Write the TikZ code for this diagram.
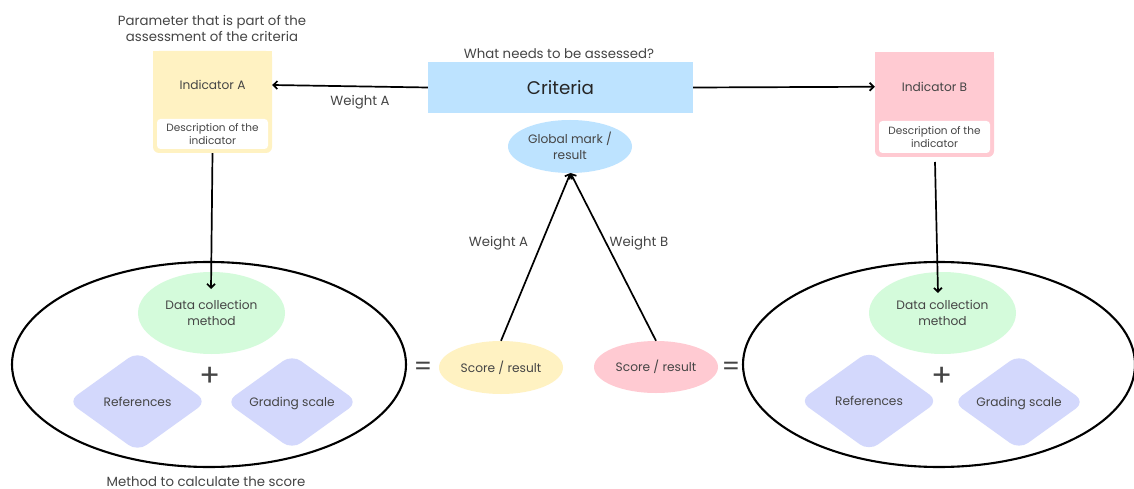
\documentclass[tikz,border=0pt]{standalone}
\usepackage{fontspec}
\setmainfont{Poppins}
\usetikzlibrary{arrows.meta,shapes.geometric}
\definecolor{cyellow}{HTML}{FFF2C2}
\definecolor{cpink}{HTML}{FFCAD2}
\definecolor{cblue}{HTML}{BDE3FF}
\definecolor{cgreen}{HTML}{D4FBDB}
\definecolor{clav}{HTML}{D3D8FC}
\definecolor{ctext}{HTML}{454545}
\tikzset{
 x=1pt,y=-1pt,
 lbl/.style={text=ctext,inner sep=0pt,align=center,font=\fontsize{13.3}{16}\selectfont},
 sym/.style={text=ctext,inner sep=0pt,font=\fontsize{26}{26}\selectfont},
 plussym/.style={text=ctext,inner sep=0pt,font=\fontsize{31}{31}\selectfont},
 bigoval/.style={ellipse,draw=black,line width=2.1pt,fill=white,inner sep=0pt},
 oval/.style={ellipse,inner sep=0pt,text=ctext,align=center,font=\fontsize{12.2}{16}\selectfont},
 rdiam/.style={diamond,fill=clav,rounded corners=11pt,inner sep=0pt,text=ctext,font=\fontsize{12.2}{16}\selectfont},
 square/.style={rectangle,inner sep=0pt,text=ctext,font=\fontsize{12.2}{16}\selectfont},
 descbox/.style={rectangle,fill=white,rounded corners=3.5pt,inner sep=0pt,text=ctext,align=center,font=\fontsize{10.5}{12.7}\selectfont},
 arr/.style={draw=black,line width=1.7pt,-{Straight Barb[length=4pt,width=8pt,line width=1.7pt]}},
}
\begin{document}
\begin{tikzpicture}
\useasboundingbox (0,0) rectangle (1134,489);
\fill[white] (0,0) rectangle (1134,489);
% left ellipse group
\node[bigoval,minimum width=394,minimum height=205] (ovA) at (209,364.5) {};
\node[oval,fill=cgreen,minimum width=147,minimum height=82] (dataA) at (211.5,313) {Data collection\\method};
\node[rdiam,minimum width=139,minimum height=100] (refA) at (137.5,401.5) {References};
\node[rdiam,minimum width=132,minimum height=95] (gradA) at (292,402) {\raisebox{-4.3pt}[0pt][0pt]{Grading scale}};
\node[plussym] (plusA) at (210.5,377) {+};
\node[sym] (eqA) at (423,369) {=};
% right ellipse group
\node[bigoval,minimum width=392,minimum height=205] (ovB) at (939,364.5) {};
\node[oval,fill=cgreen,minimum width=147,minimum height=82] (dataB) at (942.5,313) {Data collection\\method};
\node[rdiam,minimum width=139,minimum height=100] (refB) at (869,401) {References};
\node[rdiam,minimum width=132,minimum height=95] (gradB) at (1019,402) {\raisebox{-4.3pt}[0pt][0pt]{Grading scale}};
\node[plussym] (plusB) at (942,377) {+};
\node[sym] (eqB) at (731,369) {=};
% indicator A
\node[rectangle,fill=cyellow,rounded corners=6pt,minimum width=119,minimum height=102,inner sep=0pt] (boxA) at (212.5,102) {};
\node[square,fill=cyellow,minimum width=119,minimum height=68] (indA) at (212.5,85) {Indicator A};
\node[descbox,minimum width=111,minimum height=30] (descA) at (212.5,134) {Description of the\\indicator};
% indicator B
\node[rectangle,fill=cpink,rounded corners=6pt,minimum width=119,minimum height=104.5,inner sep=0pt] (boxB) at (934.5,104.75) {};
\node[square,fill=cpink,minimum width=119,minimum height=68.5] (indB) at (934.5,86.75) {Indicator B};
\node[descbox,minimum width=111,minimum height=32] (descB) at (934.5,137) {Description of the\\indicator};
% centre
\node[rectangle,fill=cblue,minimum width=265,minimum height=51,inner sep=0pt,text=black!85,font=\fontsize{18.3}{22}\selectfont] (crit) at (560.5,87.5) {Criteria};
\node[oval,fill=cblue,minimum width=124,minimum height=53] (glob) at (570,146.5) {\raisebox{1pt}{Global mark /}\\\raisebox{1pt}{result}};
\node[oval,fill=cyellow,minimum width=124,minimum height=53] (scoreA) at (501,367.5) {Score / result};
\node[oval,fill=cpink,minimum width=124,minimum height=52] (scoreB) at (656,367) {Score / result};
% labels
\node[lbl] (tParam) at (212,28) {Parameter that is part of the\\assessment of the criteria};
\node[lbl] (tWhat) at (559,53.5) {What needs to be assessed?};
\node[lbl] (tMethod) at (206,481.4) {Method to calculate the score};
\node[lbl] (tWA) at (360,102.5) {Weight A};
\node[lbl] (tW1) at (498.5,243) {Weight A};
\node[lbl] (tW2) at (639,243) {Weight B};
% connector ends
\coordinate (inA) at (211,289);
\coordinate (inB) at (938,293);
\coordinate (startB) at (935,162);
\coordinate (tip) at (570.5,173);
% connectors
\draw[arr] (crit.west) -- (indA.east);
\draw[arr] (crit.east) -- (indB.west);
\draw[arr] (boxA.south) -- (inA);
\draw[arr] (startB) -- (inB);
\draw[arr] (scoreA.north) -- (tip);
\draw[arr] (scoreB.north) -- (tip);
\end{tikzpicture}
\end{document}
